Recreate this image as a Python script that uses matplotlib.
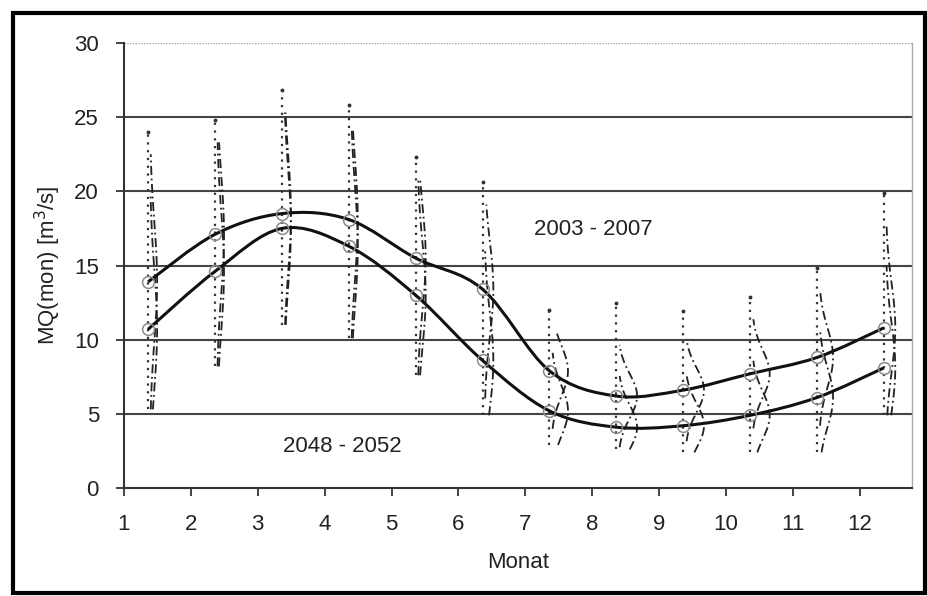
import numpy as np
import matplotlib
matplotlib.use("Agg")
import matplotlib.pyplot as plt
from matplotlib.path import Path
from matplotlib.patches import PathPatch, Rectangle

plt.rcParams['font.family'] = ['Liberation Sans', 'DejaVu Sans']

# ---- data ----
months = [1, 2, 3, 4, 5, 6, 7, 8, 9, 10, 11, 12]
mq_2003_2007 = [13.9, 17.1, 18.5, 18.1, 15.5, 13.4, 7.9, 6.2, 6.6, 7.7, 8.8, 10.8]
mq_2048_2052 = [10.7, 14.6, 17.5, 16.3, 13.0, 8.6, 5.2, 4.1, 4.2, 4.9, 6.1, 8.1]
# spread of the individual monthly values (scatter columns)
spread_min = [5.3, 8.2, 11.0, 10.1, 7.6, 4.9, 2.9, 2.6, 2.4, 2.4, 2.4, 4.9]
spread_max = [24.0, 24.8, 26.8, 25.8, 22.3, 20.6, 12.0, 12.5, 11.9, 12.9, 14.8, 19.9]
spread_sd = [4.0, 4.0, 4.0, 4.0, 3.5, 3.2, 1.7, 1.5, 1.5, 1.6, 2.0, 3.0]
yticks = [0, 5, 10, 15, 20, 25, 30]
label_upper = "2003 - 2007"
label_lower = "2048 - 2052"

W, H = 928, 596
fig = plt.figure(figsize=(W / 100, H / 100), dpi=100)
ax = fig.add_axes([124 / W, 1 - 488 / H, (912 - 124) / W, (488 - 43) / H])

off = 0.36
xpos = np.array(months, dtype=float) + off
FS = 16


def smooth_path(x, y):
    n = len(x)
    P = np.column_stack([x, y])
    verts = [P[0]]
    codes = [Path.MOVETO]
    for i in range(n - 1):
        p0 = P[i - 1] if i > 0 else P[i]
        p1 = P[i]
        p2 = P[i + 1]
        p3 = P[i + 2] if i + 2 < n else P[i + 1]
        c1 = p1 + (p2 - p0) / 6.0
        c2 = p2 - (p3 - p1) / 6.0
        verts += [c1, c2, p2]
        codes += [Path.CURVE4] * 3
    return Path(verts, codes)


# scatter columns (dotted)
for xp, lo, hi in zip(xpos, spread_min, spread_max):
    ax.vlines(xp, lo, hi, colors='#333333', linestyles=(0, (1, 2.5)), lw=1.6, zorder=2)
    ax.plot([xp], [hi], 'o', ms=1.8, color='#333333', zorder=2)

# distribution curves (dash-dot)
for xp, lo, hi, sd, mu_a, mu_b in zip(xpos, spread_min, spread_max, spread_sd,
                                      mq_2003_2007, mq_2048_2052):
    amp = 0.42 / sd
    for mu in (mu_a, mu_b):
        yy = np.linspace(max(mu - 2.3 * sd, lo), min(mu + 2.3 * sd, hi - 1.5), 60)
        xx = xp + 0.03 + amp * np.exp(-0.5 * ((yy - mu) / sd) ** 2)
        ax.plot(xx, yy, color='#222222', lw=1.3, ls=(0, (5, 2, 1, 2)), zorder=2)

# smoothed mean lines
for vals in (mq_2003_2007, mq_2048_2052):
    ax.add_patch(PathPatch(smooth_path(xpos, vals), fc='none', ec='#111111', lw=2.2, zorder=4))
    ax.plot(xpos, vals, 'o', ms=8.5, mfc='none', mec='#8a8a8a', mew=1.1, zorder=5)

ax.set_xlim(1, 12.78)
ax.set_ylim(0, 30)
ax.set_yticks(yticks)
ax.set_xticks(months)

for v in yticks[1:-1]:
    ax.axhline(v, color='#444444', lw=1.5, zorder=1)
ax.axhline(30, color='#aaaaaa', lw=1.0, ls=(0, (1, 1)), zorder=1)

ax.spines['right'].set_color('#aaaaaa')
ax.spines['right'].set_linestyle((0, (1, 1)))
ax.spines['right'].set_linewidth(1.0)
ax.spines['top'].set_visible(False)
ax.spines['left'].set_color('#333333')
ax.spines['bottom'].set_color('#333333')
ax.spines['left'].set_linewidth(1.5)
ax.spines['bottom'].set_linewidth(1.5)

ax.tick_params(axis='y', direction='out', length=6, width=1.2, pad=12, labelsize=FS, colors='#222222')
ax.tick_params(axis='x', direction='out', length=6, width=1.2, pad=13, labelsize=FS, colors='#222222')

ax.set_xlabel('Monat', fontsize=FS, color='#222222', labelpad=12)
ax.set_ylabel('MQ(mon) [m$^3$/s]', fontsize=FS, color='#222222', labelpad=8)

ax.text(8.01, 17.4, label_upper, fontsize=FS, ha='center', va='center', color='#222222')
ax.text(4.27, 2.8, label_lower, fontsize=FS, ha='center', va='center', color='#222222')

fig.add_artist(Rectangle((13 / W, 1 - 593 / H), (925 - 13) / W, (593 - 13) / H,
                         transform=fig.transFigure, fill=False, ec='black', lw=3))

fig.savefig('out.png', dpi=100)
